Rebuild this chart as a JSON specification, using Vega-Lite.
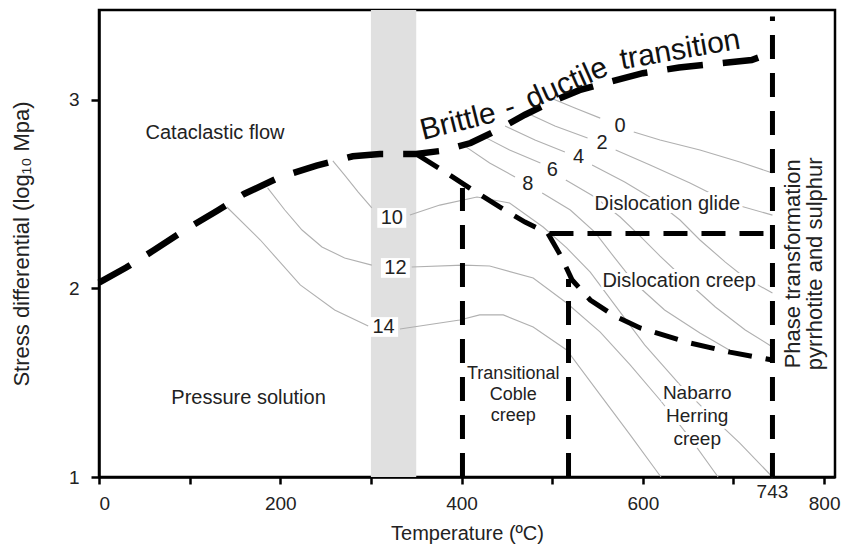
{
 "$schema": "https://vega.github.io/schema/vega-lite/v6.json",
 "width": 736, "height": 467,
 "autosize": {"type": "none"},
 "padding": {"left": 99, "top": 10, "right": 26, "bottom": 72},
 "background": "white",
 "config": {
  "font": "Liberation Sans",
  "view": {"stroke": "#000", "strokeWidth": 2.5},
  "text": {"font": "Liberation Sans", "color": "#222"}
 },
 "datasets": {
  "band": [{"x": 300, "x2": 350, "y": 1, "y2": 3.475}],
  "bd": [
   {"x":0,"y":2.03},{"x":30,"y":2.11},{"x":60,"y":2.2},{"x":95,"y":2.31},{"x":130,"y":2.41},{"x":160,"y":2.5},{"x":200,"y":2.59},{"x":240,"y":2.65},{"x":280,"y":2.7},{"x":310,"y":2.712},{"x":350,"y":2.712},{"x":380,"y":2.73},{"x":410,"y":2.77},{"x":440,"y":2.84},{"x":470,"y":2.92},{"x":500,"y":2.99},{"x":530,"y":3.05},{"x":560,"y":3.09},{"x":600,"y":3.14},{"x":640,"y":3.17},{"x":680,"y":3.19},{"x":720,"y":3.21},{"x":743,"y":3.25}
  ],
  "bounds": [
   {"b":"lower","i":1,"x":352,"y":2.706},{"b":"lower","i":2,"x":382,"y":2.616},{"b":"lower","i":3,"x":409,"y":2.531},{"b":"lower","i":4,"x":442,"y":2.431},{"b":"lower","i":5,"x":470,"y":2.351},{"b":"lower","i":6,"x":495,"y":2.293},{"b":"lower","i":7,"x":509,"y":2.176},{"b":"lower","i":8,"x":522,"y":2.044},{"b":"lower","i":9,"x":542,"y":1.938},{"b":"lower","i":10,"x":569,"y":1.853},{"b":"lower","i":11,"x":597,"y":1.79},{"b":"lower","i":12,"x":652,"y":1.71},{"b":"lower","i":13,"x":696,"y":1.662},{"b":"lower","i":14,"x":743,"y":1.62},
   {"b":"v400","i":1,"x":401,"y":1},{"b":"v400","i":2,"x":401,"y":2.531},
   {"b":"v518","i":1,"x":518,"y":1},{"b":"v518","i":2,"x":518,"y":2.05},
   {"b":"v743","i":1,"x":743,"y":1},{"b":"v743","i":2,"x":743,"y":3.44},
   {"b":"horiz","i":1,"x":497,"y":2.29},{"b":"horiz","i":2,"x":743,"y":2.29}
  ],
  "contours": [
   {"c":"0a","i":1,"x":501,"y":3.003},{"c":"0a","i":2,"x":525,"y":2.955},{"c":"0a","i":3,"x":553,"y":2.902},
   {"c":"0b","i":4,"x":590,"y":2.828},{"c":"0b","i":5,"x":619,"y":2.786},{"c":"0b","i":6,"x":663,"y":2.733},{"c":"0b","i":7,"x":707,"y":2.669},{"c":"0b","i":8,"x":743,"y":2.611},
   {"c":"2a","i":9,"x":472,"y":2.929},{"c":"2a","i":10,"x":503,"y":2.86},{"c":"2a","i":11,"x":539,"y":2.797},
   {"c":"2b","i":12,"x":570,"y":2.733},{"c":"2b","i":13,"x":608,"y":2.653},{"c":"2b","i":14,"x":652,"y":2.558},{"c":"2b","i":15,"x":696,"y":2.452},{"c":"2b","i":16,"x":743,"y":2.388},
   {"c":"4a","i":17,"x":448,"y":2.86},{"c":"4a","i":18,"x":481,"y":2.786},{"c":"4a","i":19,"x":514,"y":2.722},
   {"c":"4b","i":20,"x":544,"y":2.653},{"c":"4b","i":21,"x":580,"y":2.563},{"c":"4b","i":22,"x":613,"y":2.468},{"c":"4b","i":23,"x":641,"y":2.362},{"c":"4b","i":24,"x":663,"y":2.256},{"c":"4b","i":25,"x":691,"y":2.139},{"c":"4b","i":26,"x":713,"y":2.055},{"c":"4b","i":27,"x":743,"y":1.975},
   {"c":"6a","i":28,"x":426,"y":2.8},{"c":"6a","i":29,"x":453,"y":2.733},{"c":"6a","i":30,"x":487,"y":2.664},
   {"c":"6b","i":31,"x":515,"y":2.574},{"c":"6b","i":32,"x":547,"y":2.484},{"c":"6b","i":33,"x":575,"y":2.378},{"c":"6b","i":34,"x":597,"y":2.277},{"c":"6b","i":35,"x":619,"y":2.171},{"c":"6b","i":36,"x":647,"y":2.044},{"c":"6b","i":37,"x":680,"y":1.901},{"c":"6b","i":38,"x":713,"y":1.779},{"c":"6b","i":39,"x":743,"y":1.689},
   {"c":"8a","i":40,"x":402,"y":2.759},{"c":"8a","i":41,"x":431,"y":2.664},{"c":"8a","i":42,"x":459,"y":2.59},
   {"c":"8b","i":43,"x":489,"y":2.505},{"c":"8b","i":44,"x":520,"y":2.415},{"c":"8b","i":45,"x":547,"y":2.298},{"c":"8b","i":46,"x":569,"y":2.161},{"c":"8b","i":47,"x":591,"y":2.028},{"c":"8b","i":48,"x":624,"y":1.885},{"c":"8b","i":49,"x":663,"y":1.763},{"c":"8b","i":50,"x":701,"y":1.657},
   {"c":"10a","i":51,"x":258,"y":2.675},{"c":"10a","i":52,"x":271,"y":2.6},{"c":"10a","i":53,"x":286,"y":2.51},{"c":"10a","i":54,"x":301,"y":2.426},
   {"c":"10b","i":55,"x":343,"y":2.388},{"c":"10b","i":56,"x":376,"y":2.441},{"c":"10b","i":57,"x":417,"y":2.484},{"c":"10b","i":58,"x":453,"y":2.452},{"c":"10b","i":59,"x":490,"y":2.325},{"c":"10b","i":60,"x":516,"y":2.214},{"c":"10b","i":61,"x":542,"y":2.086},{"c":"10b","i":62,"x":569,"y":1.912},{"c":"10b","i":63,"x":602,"y":1.7},{"c":"10b","i":64,"x":641,"y":1.488},{"c":"10b","i":65,"x":674,"y":1.329},{"c":"10b","i":66,"x":707,"y":1.18},{"c":"10b","i":67,"x":743,"y":1.0},
   {"c":"12a","i":68,"x":186,"y":2.532},{"c":"12a","i":69,"x":205,"y":2.415},{"c":"12a","i":70,"x":224,"y":2.309},{"c":"12a","i":71,"x":246,"y":2.219},{"c":"12a","i":72,"x":271,"y":2.161},{"c":"12a","i":73,"x":301,"y":2.123},
   {"c":"12b","i":74,"x":345,"y":2.113},{"c":"12b","i":75,"x":402,"y":2.123},{"c":"12b","i":76,"x":431,"y":2.118},{"c":"12b","i":77,"x":479,"y":2.055},{"c":"12b","i":78,"x":516,"y":1.922},{"c":"12b","i":79,"x":553,"y":1.768},{"c":"12b","i":80,"x":586,"y":1.594},{"c":"12b","i":81,"x":619,"y":1.408},{"c":"12b","i":82,"x":652,"y":1.207},{"c":"12b","i":83,"x":683,"y":1.0},
   {"c":"14a","i":84,"x":141,"y":2.431},{"c":"14a","i":85,"x":178,"y":2.256},{"c":"14a","i":86,"x":222,"y":2.018},{"c":"14a","i":87,"x":260,"y":1.885},{"c":"14a","i":88,"x":297,"y":1.8},
   {"c":"14b","i":89,"x":332,"y":1.784},{"c":"14b","i":90,"x":398,"y":1.832},{"c":"14b","i":91,"x":420,"y":1.859},{"c":"14b","i":92,"x":446,"y":1.859},{"c":"14b","i":93,"x":479,"y":1.795},{"c":"14b","i":94,"x":516,"y":1.673},{"c":"14b","i":95,"x":553,"y":1.435},{"c":"14b","i":96,"x":586,"y":1.223},{"c":"14b","i":97,"x":620,"y":1.0}
  ],
  "numlabels": [
   {"n":0,"x":575,"y":2.86},{"n":2,"x":555,"y":2.77},{"n":4,"x":529,"y":2.696},{"n":6,"x":500,"y":2.627},{"n":8,"x":473,"y":2.553},
   {"n":10,"x":323,"y":2.373},{"n":12,"x":327,"y":2.108},{"n":14,"x":314,"y":1.795}
  ],
  "texts": [
   {"t":"Cataclastic flow","x":128,"y":2.823,"g":"s"},
   {"t":"Pressure solution","x":165,"y":1.419,"g":"s"},
   {"t":"Dislocation glide","x":627,"y":2.447,"g":"h"},
   {"t":"Dislocation creep","x":640,"y":2.04,"g":"h"},
   {"t":"Transitional\nCoble\ncreep","x":457,"y":1.594,"g":"coble"},
   {"t":"Nabarro\nHerring\ncreep","x":660,"y":1.493,"g":"nab"},
   {"t":"Phase transformation\npyrrhotite and sulphur","x":766,"y":2.13,"g":"phase"},
   {"t":"743","x":743,"y":0.92,"g":"tick"},
   {"t":"Brittle","x":396,"y":2.881,"g":"w1"},
   {"t":"-","x":453,"y":2.958,"g":"w2"},
   {"t":"ductile","x":516,"y":3.085,"g":"w3"},
   {"t":"transition","x":641,"y":3.263,"g":"w4"}
  ]
 },
 "encoding": {
  "x": {"field": "x", "type": "quantitative", "scale": {"domain": [0, 812], "nice": false, "zero": false},
   "axis": {"values": [0,100,200,300,400,500,600,700,800], "labelExpr": "datum.value % 200 == 0 ? datum.label : ''",
    "title": "Temperature (ºC)", "grid": false, "domainColor": "#000", "domainWidth": 2.5, "tickColor": "#000", "tickWidth": 2.5, "tickSize": 7,
    "labelFontSize": 19, "labelColor": "#222", "labelPadding": 10, "labelFont": "Liberation Sans",
    "titleFontSize": 20, "titleFontWeight": "normal", "titleColor": "#222", "titlePadding": 10, "titleFont": "Liberation Sans"}},
  "y": {"field": "y", "type": "quantitative", "scale": {"domain": [1, 3.475], "nice": false, "zero": false},
   "axis": {"values": [1,2,3], "format": "d", "title": "Stress differential (log₁₀ Mpa)", "grid": false, "domainColor": "#000", "domainWidth": 2.5, "tickColor": "#000", "tickWidth": 2.5, "tickSize": 8,
    "labelFontSize": 19, "labelColor": "#222", "labelPadding": 12, "labelFont": "Liberation Sans",
    "titleFontSize": 22, "titleFontWeight": "normal", "titleColor": "#222", "titlePadding": 35, "titleFont": "Liberation Sans"}}
 },
 "layer": [
  {"data": {"name": "band"}, "mark": {"type": "rect", "color": "#e0e0e0"},
   "encoding": {"x2": {"field": "x2"}, "y2": {"field": "y2"}}},
  {"data": {"name": "contours"}, "mark": {"type": "line", "color": "#b0b0b0", "strokeWidth": 1.1},
   "encoding": {"detail": {"field": "c"}, "order": {"field": "i", "type": "quantitative"}}},
  {"data": {"name": "texts"}, "transform": [{"filter": "datum.g == 'h'"}],
   "mark": {"type": "text", "fontSize": 20, "stroke": "white", "strokeWidth": 6, "fill": "white", "align": "center", "baseline": "middle"},
   "encoding": {"text": {"field": "t"}}},
  {"data": {"name": "texts"}, "transform": [{"filter": "datum.g == 'nab'"}],
   "mark": {"type": "text", "fontSize": 19, "lineBreak": "\n", "lineHeight": 23, "stroke": "white", "strokeWidth": 6, "fill": "white", "align": "center", "baseline": "top"},
   "encoding": {"text": {"field": "t"}}},
  {"data": {"name": "numlabels"}, "transform": [{"filter": "datum.n >= 10"}],
   "mark": {"type": "point", "shape": "M-1,-0.68L1,-0.68L1,0.68L-1,0.68Z", "filled": true, "color": "white", "opacity": 1, "size": 841},
   "encoding": {}},
  {"data": {"name": "numlabels"},
   "mark": {"type": "text", "fontSize": 20, "align": "center", "baseline": "middle", "color": "#222"},
   "encoding": {"text": {"field": "n"}}},
  {"data": {"name": "bounds"}, "mark": {"type": "line", "color": "#000", "strokeWidth": 5, "strokeDash": [24, 14], "strokeCap": "butt"},
   "encoding": {"detail": {"field": "b"}, "order": {"field": "i", "type": "quantitative"}}},
  {"data": {"name": "bd"}, "mark": {"type": "line", "color": "#000", "strokeWidth": 6.5, "strokeDash": [36, 20], "strokeCap": "butt"},
   "encoding": {}},
  {"data": {"name": "texts"}, "transform": [{"filter": "datum.g == 's' || datum.g == 'h'"}],
   "mark": {"type": "text", "fontSize": 20, "align": "center", "baseline": "middle"},
   "encoding": {"text": {"field": "t"}}},
  {"data": {"name": "texts"}, "transform": [{"filter": "datum.g == 'coble'"}],
   "mark": {"type": "text", "fontSize": 18, "lineBreak": "\n", "lineHeight": 21, "align": "center", "baseline": "top"},
   "encoding": {"text": {"field": "t"}}},
  {"data": {"name": "texts"}, "transform": [{"filter": "datum.g == 'nab'"}],
   "mark": {"type": "text", "fontSize": 19, "lineBreak": "\n", "lineHeight": 23, "align": "center", "baseline": "top"},
   "encoding": {"text": {"field": "t"}}},
  {"data": {"name": "texts"}, "transform": [{"filter": "datum.g == 'phase'"}],
   "mark": {"type": "text", "fontSize": 22, "lineBreak": "\n", "lineHeight": 22, "align": "center", "baseline": "middle", "angle": -90},
   "encoding": {"text": {"field": "t"}}},
  {"data": {"name": "texts"}, "transform": [{"filter": "datum.g == 'tick'"}],
   "mark": {"type": "text", "fontSize": 19, "align": "center", "baseline": "middle"},
   "encoding": {"text": {"field": "t"}}},
  {"data": {"name": "texts"}, "transform": [{"filter": "datum.g == 'w1'"}],
   "mark": {"type": "text", "fontSize": 30, "align": "center", "baseline": "middle", "angle": -14, "color": "#111"},
   "encoding": {"text": {"field": "t"}}},
  {"data": {"name": "texts"}, "transform": [{"filter": "datum.g == 'w2'"}],
   "mark": {"type": "text", "fontSize": 30, "align": "center", "baseline": "middle", "angle": -18, "color": "#111"},
   "encoding": {"text": {"field": "t"}}},
  {"data": {"name": "texts"}, "transform": [{"filter": "datum.g == 'w3'"}],
   "mark": {"type": "text", "fontSize": 30, "align": "center", "baseline": "middle", "angle": -24, "color": "#111"},
   "encoding": {"text": {"field": "t"}}},
  {"data": {"name": "texts"}, "transform": [{"filter": "datum.g == 'w4'"}],
   "mark": {"type": "text", "fontSize": 30, "align": "center", "baseline": "middle", "angle": -10, "color": "#111"},
   "encoding": {"text": {"field": "t"}}}
 ]
}
